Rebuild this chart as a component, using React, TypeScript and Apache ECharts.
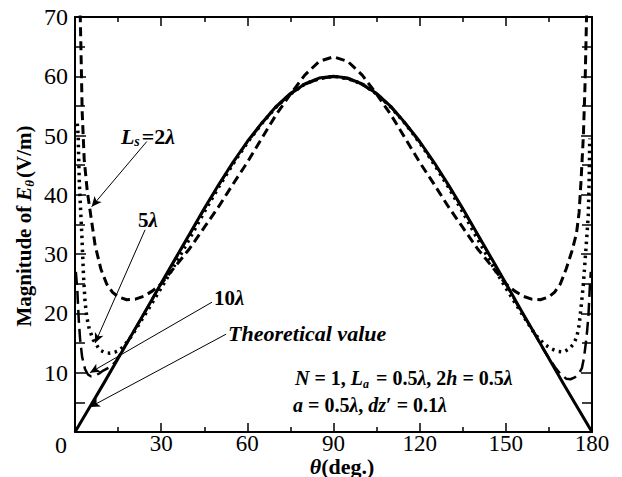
import React, { useEffect, useRef } from "react";
import * as echarts from "echarts";

// ---------- data (θ in degrees, |Eθ| in V/m) ----------
const X_TICKS_MIN = 0;
const X_TICKS_MAX = 180;
const X_INTERVAL = 30;
const Y_TICKS_MIN = 0;
const Y_TICKS_MAX = 70;
const Y_INTERVAL = 10;

const THEORY: number[][] = [
  [0, 0], [5, 4.1], [10, 8.2], [15, 12.4], [20, 16.6], [25, 20.8], [30, 25.1],
  [35, 29.3], [40, 33.5], [45, 37.7], [50, 41.7], [55, 45.5], [60, 49.0],
  [65, 52.1], [70, 54.9], [75, 57.1], [80, 58.7], [85, 59.7], [90, 60],
  [95, 59.7], [100, 58.7], [105, 57.1], [110, 54.9], [115, 52.1], [120, 49.0],
  [125, 45.5], [130, 41.7], [135, 37.7], [140, 33.5], [145, 29.3], [150, 25.1],
  [155, 20.8], [160, 16.6], [165, 12.4], [170, 8.2], [175, 4.1], [180, 0],
];

const LS_2: number[][] = [
  [1.7, 73], [2.1, 64], [2.5, 54], [3.2, 46], [4.3, 40.5], [5.5, 36.5], [7, 31.5],
  [9, 27.5], [11, 25], [13, 23.6], [15, 22.8], [18, 22.3], [21, 22.4], [24, 22.9],
  [27, 23.8], [30, 25], [35, 28], [40, 31], [45, 34.5], [50, 38], [55, 41.8],
  [60, 45.5], [65, 49.5], [70, 53.5], [75, 57], [80, 60.2], [85, 62.5], [90, 63.3],
  [95, 62.5], [100, 60.2], [105, 57], [110, 53.5], [115, 49.5], [120, 45.5],
  [125, 41.8], [130, 38], [135, 34.5], [140, 31], [145, 28], [150, 25],
  [153, 23.8], [156, 22.9], [159, 22.4], [162, 22.3], [165, 22.8], [167, 23.6],
  [169, 25], [171, 27.5], [173, 30.5], [174.6, 33.5], [175.5, 37], [176.2, 42.5],
  [177, 50], [177.6, 59], [178.1, 70], [178.3, 73],
];

const LS_5: number[][] = [
  [0.8, 52], [1.1, 50], [1.5, 42], [2, 37], [2.4, 33], [3, 26], [3.5, 22],
  [4.1, 19.4], [5, 17.3], [6.4, 15.5], [8.7, 13.8], [10.5, 13.4], [12.2, 13.3],
  [14, 13.5], [15.7, 13.9], [17, 14.5], [18.5, 15.4], [20, 16.4], [25, 20.3],
  [30, 24.3], [35, 28.4], [40, 32.7], [45, 37.1], [50, 41.3], [55, 45.2],
  [60, 48.8], [65, 52], [70, 54.8], [75, 57], [80, 58.7], [85, 59.6], [90, 60],
  [95, 59.6], [100, 58.7], [105, 57], [110, 54.8], [115, 52], [120, 48.8],
  [125, 45.2], [130, 41.3], [135, 37.1], [140, 32.7], [145, 28.4], [150, 24.3],
  [155, 20.4], [160, 16.6], [162, 15.5], [164, 14.6], [166, 14], [168, 13.6],
  [170, 13.5], [172, 14], [173.5, 14.8], [174.7, 16], [175.5, 18], [176.3, 21.5],
  [177, 25], [177.6, 29], [178.2, 33], [178.7, 36.5], [179, 42], [179.2, 49.5],
];

const LS_10: number[][] = [
  [0.3, 27], [0.8, 24], [1.3, 19], [1.8, 15.5], [2.5, 12.6], [3.5, 10.6],
  [4.5, 9.7], [5.5, 9.4], [7, 9.5], [8.5, 9.9], [10, 10.4], [12, 10.9],
  [14, 11.8], [16, 13.4], [18, 15], [20, 16.6], [25, 20.8], [30, 25], [35, 29.2],
  [40, 33.4], [45, 37.6], [50, 41.6], [55, 45.4], [60, 48.9], [65, 52], [70, 54.8],
  [75, 57], [80, 58.6], [85, 59.6], [90, 59.9], [95, 59.6], [100, 58.6], [105, 57],
  [110, 54.8], [115, 52], [120, 48.9], [125, 45.4], [130, 41.6], [135, 37.6],
  [140, 33.4], [145, 29.2], [150, 25], [155, 20.6], [160, 16.6], [163, 14],
  [165, 12.5], [167, 11], [169, 9.8], [171, 9], [172.5, 8.9], [174, 9.2],
  [175.5, 9.9], [176.5, 10.8], [177.2, 12.5], [177.8, 14.8], [178.3, 17],
  [178.8, 20], [179.3, 25], [179.6, 27],
];

// annotation arrows: from label (θ, E) to curve (θ, E)
const ARROW_FROM: number[][] = [[25.0, 49.0], [24.4, 34.1], [47.7, 21.9], [52.6, 16.5]];
const ARROW_TO: number[][] = [[5.8, 38.0], [7.0, 15.0], [5.2, 10.0], [5.2, 4.2]];

const FONT = "Liberation Serif, Times New Roman, serif";

function richSet(size: number, lh: number) {
  const base = { fontFamily: FONT, fontSize: size, color: "#000", fill: "#000", lineHeight: lh, verticalAlign: "middle" as const };
  const subSize = Math.round(size * 0.62);
  return {
    r: { ...base },
    b: { ...base, fontWeight: "bold" as const },
    bi: { ...base, fontWeight: "bold" as const, fontStyle: "italic" as const },
    sub: {
      fontFamily: FONT, fontSize: subSize, color: "#000", fill: "#000",
      fontWeight: "bold" as const, fontStyle: "italic" as const,
      lineHeight: subSize, verticalAlign: "bottom" as const,
      padding: [0, 2, 0, 0],
    },
  };
}

function txt(x: number, y: number, text: string, size: number, align: string, rotation = 0, lh = size + 3) {
  return {
    type: "text",
    x, y, rotation,
    silent: true,
    style: { text, rich: richSet(size, lh), align, verticalAlign: "middle", fill: "#000", fontFamily: FONT, fontSize: size },
  };
}

export default function App() {
  const ref = useRef<HTMLDivElement>(null);
  useEffect(() => {
    if (!ref.current) return;
    const chart = echarts.init(ref.current, null, { renderer: "svg" });
    const axisCommon = {
      type: "value" as const,
      axisLine: { show: true, onZero: false, lineStyle: { color: "#000", width: 2 } },
      splitLine: { show: false },
    };
    const xAxisBase = {
      ...axisCommon,
      min: X_TICKS_MIN, max: X_TICKS_MAX, interval: X_INTERVAL,
      axisTick: { show: true, inside: true, length: 9, lineStyle: { color: "#000", width: 1.5 } },
      minorTick: { show: true, splitNumber: 2, length: 5, lineStyle: { color: "#000", width: 1.5 } },
    };
    const yAxisBase = {
      ...axisCommon,
      min: Y_TICKS_MIN, max: Y_TICKS_MAX, interval: Y_INTERVAL,
      axisTick: { show: true, inside: true, length: 11, lineStyle: { color: "#000", width: 1.5 } },
      minorTick: { show: true, splitNumber: 2, length: 10, lineStyle: { color: "#000", width: 1.5 } },
    };
    const lineSeries = (name: string, data: number[][], width: number, type: any, z: number) => ({
      name, type: "line", data, showSymbol: false, symbol: "none", clip: true, z,
      lineStyle: { color: "#000", width, type, cap: "butt", join: "round" },
      emphasis: { disabled: true },
    });
    const option: any = {
      animation: false,
      grid: { left: 75, right: 30, top: 17, bottom: 45 },
      xAxis: [
        {
          ...xAxisBase, position: "bottom",
          axisLabel: {
            margin: 3, fontFamily: FONT, fontSize: 23, lineHeight: 16, color: "#000",
            formatter: (v: number) => (v === 0 ? "" : String(v)),
          },
        },
        { ...xAxisBase, position: "top", axisLabel: { show: false } },
      ],
      yAxis: [
        {
          ...yAxisBase, position: "left",
          axisLabel: {
            margin: 7, fontFamily: FONT, fontSize: 24, lineHeight: 18, color: "#000",
            formatter: (v: number) => (v === 0 ? "" : String(v)),
          },
        },
        { ...yAxisBase, position: "right", axisLabel: { show: false } },
      ],
      series: [
        lineSeries("Ls = 2λ", LS_2, 3, [9, 5], 3),
        lineSeries("5λ", LS_5, 3.5, [2.5, 4.5], 4),
        lineSeries("10λ", LS_10, 2.5, [13, 6], 5),
        {
          ...lineSeries("Theoretical value", THEORY, 3, "solid", 6),
          markLine: {
            silent: true, animation: false,
            symbol: ["none", "arrow"], symbolSize: [7, 10],
            lineStyle: { color: "#000", width: 1, type: "solid" },
            label: { show: false },
            emphasis: { disabled: true },
            data: ARROW_FROM.map((f, i) => [{ coord: f }, { coord: ARROW_TO[i] }]),
          },
        },
      ],
      graphic: [
        txt(61, 445, "{r|0}", 24, "center", 0, 18),
        txt(24, 226, "{b|Magnitude of }{bi|E}{sub|θ}{b|(V/m)}", 21, "center", Math.PI / 2),
        txt(342, 466, "{bi|θ}{b|(deg.)}", 22, "center", 0, 20),
        txt(148, 136, "{bi|L}{sub|s}{b|=2}{bi|λ}", 22, "center"),
        txt(148, 220, "{b|5}{bi|λ}", 21, "center"),
        txt(214, 298, "{b|10}{bi|λ}", 21, "left"),
        txt(228, 333, "{bi|Theoretical value}", 22, "left"),
        txt(295, 378, "{bi|N}{b| = 1, }{bi|L}{sub|a}{b| = 0.5}{bi|λ}{b|, 2}{bi|h}{b| = 0.5}{bi|λ}", 20, "left"),
        txt(293, 405, "{bi|a}{b| = 0.5}{bi|λ}{b|, }{bi|dz}{b|′ = 0.1}{bi|λ}", 20, "left"),
      ],
    };
    chart.setOption(option);
    return () => chart.dispose();
  }, []);
  return (
    <div
      ref={ref}
      style={{ position: "fixed", left: 0, top: 0, width: 622, height: 477, background: "#fff" }}
    />
  );
}
